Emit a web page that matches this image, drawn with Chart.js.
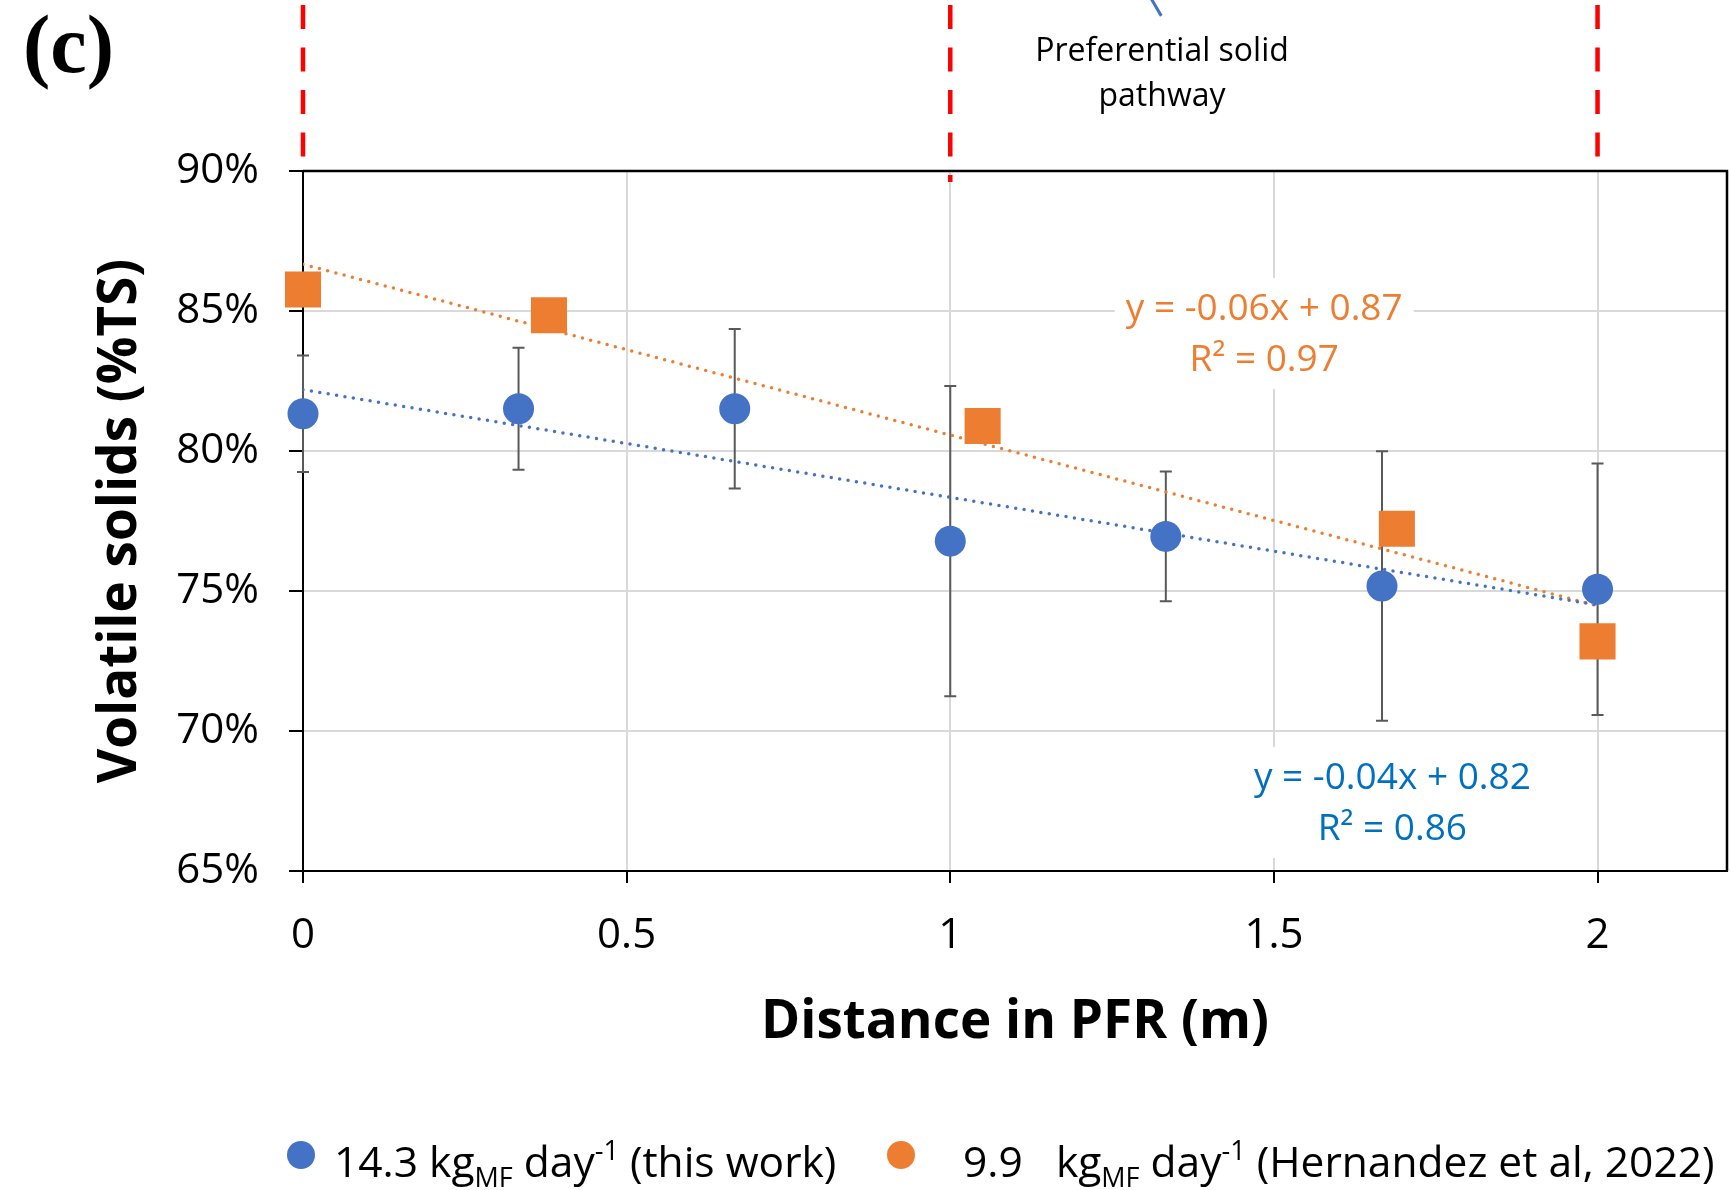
<!DOCTYPE html>
<html>
<head>
<meta charset="utf-8">
<script src="https://cdn.jsdelivr.net/npm/chart.js@4.4.1/dist/chart.umd.min.js"></script>
<style>
  html, body { margin: 0; padding: 0; background: #fff; }
  #wrap { position: relative; width: 1730px; height: 1190px; overflow: hidden; }
  #chart { position: absolute; left: 0; top: 0; }
  .txt { position: absolute; font-family: 'Open Sans', sans-serif; color: #000; white-space: nowrap; }
  .panel { position: absolute; left: 23px; top: 0px; font-family: 'Liberation Serif', serif; font-weight: bold; font-size: 82px; line-height: 90px; }
  .note { left: 962px; top: 26px; width: 400px; text-align: center; font-size: 32px; line-height: 45px; }
  .dot { position: absolute; width: 28px; height: 28px; border-radius: 50%; top: 1141px; }
  .leg { top: 1136px; font-size: 42.5px; line-height: 50px; }
  .sub { font-size: 27px; position: relative; top: 10px; }
  .sup { font-size: 27px; position: relative; top: -17px; }
</style>
</head>
<body>
<div id="wrap">
  <canvas id="chart" width="1730" height="1190"></canvas>
  <div class="panel">(c)</div>
  <div class="txt note">Preferential solid<br>pathway</div>
  <span class="dot" style="left:287px; background:#4472C4"></span>
  <div class="txt leg" style="left:334px">14.3 kg<span class="sub">MF</span> day<span class="sup">-1</span> (this work)</div>
  <span class="dot" style="left:887px; background:#ED7D31"></span>
  <div class="txt leg" style="left:963px">9.9&nbsp;&nbsp;&nbsp;kg<span class="sub">MF</span> day<span class="sup">-1</span> (Hernandez et al, 2022)</div>
</div>
<script>
/* ============================
   DATA
============================ */
const blueX = [0, 0.333, 0.667, 1, 1.333, 1.667, 2];
const blueY = [81.33, 81.51, 81.51, 76.78, 76.95, 75.18, 75.06];
const blueErr = [2.08, 2.18, 2.85, 5.54, 2.32, 4.81, 4.49];

const orangeX = [0, 0.38, 1.05, 1.69, 2];
const orangeY = [85.77, 84.85, 80.89, 77.22, 73.2];

// trendline end points
const blueTrendX = [0, 2];
const blueTrendY = [82.19, 74.5];
const orangeTrendX = [0, 2];
const orangeTrendY = [86.67, 74.47];

const guideX = [0, 1, 2];
const eqText = [['y = -0.06x + 0.87', 'R² = 0.97'], ['y = -0.04x + 0.82', 'R² = 0.86']];

const xTicks = { min: 0, max: 2.2, step: 0.5 };
const yTicks = { min: 65, max: 90, step: 5 };

/* ============================
   LAYOUT / STYLE
============================ */
const BLUE = '#4472C4';
const ORANGE = '#ED7D31';
const guideTop = 95.93;
const guideBottom = [89.93, 89.61, 89.93];
const arrowPts = [{ x: 1.309, y: 96.21 }, { x: 1.326, y: 95.54 }];
const eqPos = [
    { x: 1.485, y: [85.07, 83.25], color: '#ED7D31' },
    { x: 1.683, y: [68.32, 66.5], color: '#0070C0' }
];

const pts = (xs, ys) => xs.map((x, i) => ({ x, y: ys[i] }));

/* ============================
   PLUGINS
============================ */
const frameAndErrors = {
    id: 'frameAndErrors',
    beforeDatasetsDraw(chart) {
        const { ctx, chartArea: a, scales: { x, y } } = chart;
        ctx.save();
        // top and right border of the plot area
        ctx.strokeStyle = '#000';
        ctx.lineWidth = 2.5;
        ctx.beginPath();
        ctx.moveTo(a.left, a.top);
        ctx.lineTo(a.right, a.top);
        ctx.lineTo(a.right, a.bottom);
        ctx.stroke();

        // error bars on the blue series
        ctx.strokeStyle = '#595959';
        ctx.lineWidth = 2;
        blueX.forEach((v, i) => {
            const px = x.getPixelForValue(v);
            const top = y.getPixelForValue(blueY[i] + blueErr[i]);
            const bot = y.getPixelForValue(blueY[i] - blueErr[i]);
            ctx.beginPath();
            ctx.moveTo(px, top); ctx.lineTo(px, bot);
            ctx.moveTo(px - 6, top); ctx.lineTo(px + 6, top);
            ctx.moveTo(px - 6, bot); ctx.lineTo(px + 6, bot);
            ctx.stroke();
        });
        ctx.restore();
    }
};

const equations = {
    id: 'equations',
    afterDatasetsDraw(chart) {
        const { ctx, scales: { x, y } } = chart;
        ctx.save();
        ctx.font = '37px "Open Sans"';
        ctx.textAlign = 'center';
        ctx.textBaseline = 'middle';
        eqText.forEach((lines, i) => {
            const p = eqPos[i];
            const cx = x.getPixelForValue(p.x);
            const ys = p.y.map(v => y.getPixelForValue(v));
            const w = Math.max(...lines.map(t => ctx.measureText(t).width));
            ctx.fillStyle = '#fff';
            ctx.fillRect(cx - w / 2 - 11, ys[0] - 31, w + 22, ys[1] - ys[0] + 60);
            ctx.fillStyle = p.color;
            lines.forEach((t, j) => ctx.fillText(t, cx, ys[j]));
        });
        ctx.restore();
    }
};

/* ============================
   CHART
============================ */
const gridColor = edges => c => edges.includes(c.tick.value) ? 'rgba(0,0,0,0)' : '#D9D9D9';

const datasets = [
    {
        data: pts(blueTrendX, blueTrendY), showLine: true, order: 0,
        borderColor: BLUE, borderWidth: 3.5, borderDash: [0, 8.5], borderCapStyle: 'round', pointRadius: 0
    },
    {
        data: pts(orangeTrendX, orangeTrendY), showLine: true, order: 0,
        borderColor: ORANGE, borderWidth: 3.5, borderDash: [0, 8.5], borderCapStyle: 'round', pointRadius: 0
    },
    {
        data: pts(orangeX, orangeY), order: 1, clip: false,
        pointStyle: 'rect', pointRadius: 25.5, backgroundColor: ORANGE, borderWidth: 0
    },
    {
        data: pts(blueX, blueY), order: 2, clip: false,
        pointStyle: 'circle', pointRadius: 15.5, backgroundColor: BLUE, borderWidth: 0
    },
    ...guideX.map((gx, i) => ({
        data: [{ x: gx, y: guideTop }, { x: gx, y: guideBottom[i] }], showLine: true, clip: false, order: 5,
        borderColor: '#FF0000', borderWidth: 4.5, borderDash: [24, 18.5], pointRadius: 0
    })),
    {
        data: arrowPts, showLine: true, clip: false, order: 5,
        borderColor: BLUE, borderWidth: 3, pointRadius: 0
    }
];

new Chart(document.getElementById('chart'), {
    type: 'scatter',
    data: { datasets },
    options: {
        responsive: false,
        animation: false,
        layout: { autoPadding: false, padding: { top: 171, right: 3, bottom: 0, left: 0 } },
        plugins: { legend: { display: false }, tooltip: { enabled: false } },
        scales: {
            x: {
                type: 'linear',
                min: xTicks.min, max: xTicks.max,
                afterFit: s => { s.height = 319; s.paddingLeft = 0; s.paddingRight = 0; },
                ticks: {
                    stepSize: xTicks.step, includeBounds: false, padding: 28,
                    color: '#000', font: { family: 'Open Sans', size: 42 },
                    callback: v => String(v)
                },
                grid: { color: gridColor([0]), lineWidth: 2, tickColor: '#000', tickWidth: 2, tickLength: 12 },
                border: { color: '#000', width: 2 },
                title: {
                    display: true, text: 'Distance in PFR (m)', color: '#000',
                    font: { family: 'Open Sans', size: 53, weight: 'bold' },
                    padding: { top: 0, bottom: 135 }
                }
            },
            y: {
                min: yTicks.min, max: yTicks.max,
                afterFit: s => { s.width = 303; s.paddingTop = 0; s.paddingBottom = 0; },
                ticks: {
                    stepSize: yTicks.step, padding: 30,
                    color: '#000', font: { family: 'Open Sans', size: 42 },
                    callback: v => v + '%'
                },
                grid: { color: gridColor([yTicks.min, yTicks.max]), lineWidth: 2, tickColor: '#000', tickWidth: 2, tickLength: 14 },
                border: { color: '#000', width: 2 },
                title: {
                    display: true, text: 'Volatile solids (%TS)', color: '#000',
                    font: { family: 'Open Sans', size: 53, weight: 'bold' },
                    padding: { top: 89, bottom: 0 }
                }
            }
        }
    },
    plugins: [frameAndErrors, equations]
});
</script>
</body>
</html>
